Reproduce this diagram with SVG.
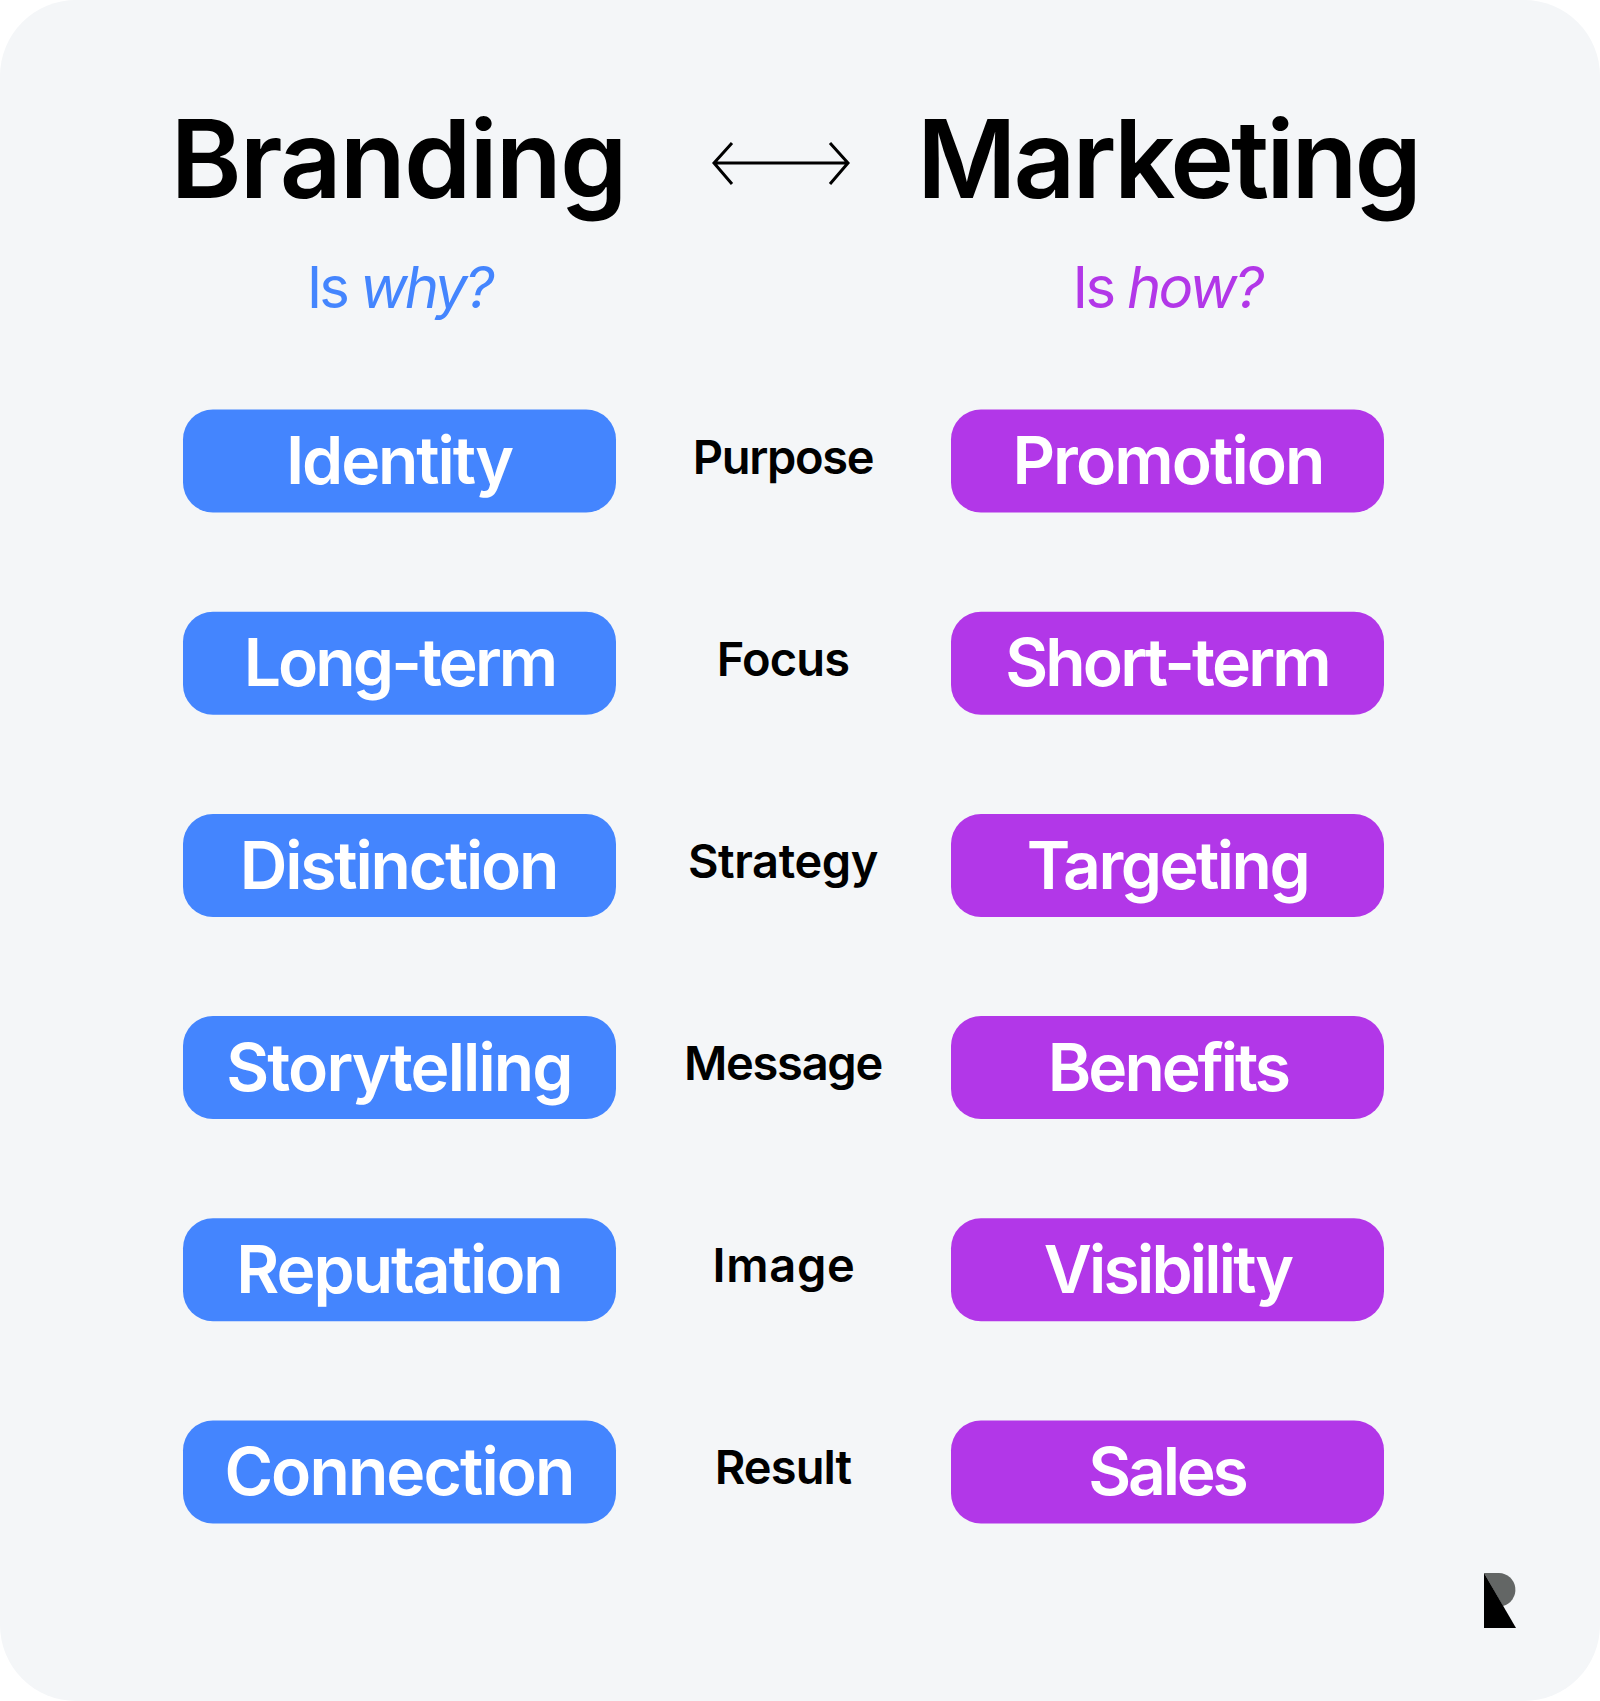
<svg xmlns="http://www.w3.org/2000/svg" width="1600" height="1701" viewBox="0 0 1600 1701">
<style>
text{font-family:Inter,"Liberation Sans",sans-serif;text-anchor:middle}
.t{font-size:108px;font-weight:600;letter-spacing:-3px;fill:#000}
.s{font-size:58px;font-weight:400;letter-spacing:-3px}
.p{font-size:66px;font-weight:600;letter-spacing:-2.4px;fill:#fff}
.c{font-size:47px;font-weight:600;letter-spacing:-1.3px;fill:#000}
.b{fill:#4485fe}.m{fill:#b237e8}
</style>
<rect width="1600" height="1701" fill="#fff"/>
<rect width="1600" height="1701" rx="76" fill="#f4f6f8"/>
<g id="title-branding"><text class="t" x="398" y="198" style="letter-spacing:-1.9px">Branding</text></g>
<g id="title-marketing"><text class="t" x="1168" y="198">Marketing</text></g>
<g id="connectors"><path d="M714 163H848M732 143L714 163L732 184M830 143L848 163L830 184" fill="none" stroke="#000" stroke-width="3"/></g>
<g id="sub-branding"><text class="s" x="399" y="308" fill="#4485fe">Is <tspan font-style="italic">why?</tspan></text></g>
<g id="sub-marketing"><text class="s" x="1167" y="308" fill="#b237e8" style="letter-spacing:-2.7px">Is <tspan font-style="italic">how?</tspan></text></g>
<g id="b1"><rect class="b" x="183" y="409.500" width="433" height="103" rx="30"/><text class="p" x="399" y="484" style="letter-spacing:-2.1px">Identity</text></g>
<g id="b2"><rect class="b" x="183" y="611.700" width="433" height="103" rx="30"/><text class="p" x="399.500" y="686" style="letter-spacing:-2.9px">Long-term</text></g>
<g id="b3"><rect class="b" x="183" y="814" width="433" height="103" rx="30"/><text class="p" x="398.500" y="889" style="letter-spacing:-2.2px">Distinction</text></g>
<g id="b4"><rect class="b" x="183" y="1016" width="433" height="103" rx="30"/><text class="p" x="399" y="1091" style="letter-spacing:-1.9px">Storytelling</text></g>
<g id="b5"><rect class="b" x="183" y="1218.300" width="433" height="103" rx="30"/><text class="p" x="399" y="1293" style="letter-spacing:-2px">Reputation</text></g>
<g id="b6"><rect class="b" x="183" y="1420.500" width="433" height="103" rx="30"/><text class="p" x="399" y="1495" style="letter-spacing:-1.9px">Connection</text></g>
<g id="c1"><text class="c" x="783" y="474">Purpose</text></g>
<g id="c2"><text class="c" x="783" y="676" style="letter-spacing:-.8px">Focus</text></g>
<g id="c3"><text class="c" x="783" y="878" style="letter-spacing:-.4px">Strategy</text></g>
<g id="c4"><text class="c" x="783" y="1080">Message</text></g>
<g id="c5"><text class="c" x="784" y="1282" style="letter-spacing:.7px">Image</text></g>
<g id="c6"><text class="c" x="783" y="1484" style="letter-spacing:-.9px">Result</text></g>
<g id="m1"><rect class="m" x="951" y="409.500" width="433" height="103" rx="30"/><text class="p" x="1168" y="484" style="letter-spacing:-1.9px">Promotion</text></g>
<g id="m2"><rect class="m" x="951" y="611.700" width="433" height="103" rx="30"/><text class="p" x="1167" y="686" style="letter-spacing:-2.8px">Short-term</text></g>
<g id="m3"><rect class="m" x="951" y="814" width="433" height="103" rx="30"/><text class="p" x="1167.500" y="889" style="letter-spacing:-2.5px">Targeting</text></g>
<g id="m4"><rect class="m" x="951" y="1016" width="433" height="103" rx="30"/><text class="p" x="1168" y="1091" style="letter-spacing:-3px">Benefits</text></g>
<g id="m5"><rect class="m" x="951" y="1218.300" width="433" height="103" rx="30"/><text class="p" x="1167.500" y="1293" style="letter-spacing:-2.8px">Visibility</text></g>
<g id="m6"><rect class="m" x="951" y="1420.500" width="433" height="103" rx="30"/><text class="p" x="1167" y="1495" style="letter-spacing:-3.2px">Sales</text></g>
<g id="logo"><path d="M1484 1573H1499A16.800 16.800 0 0 1 1503 1606Z" fill="#636665"/><path d="M1484 1573L1516 1628H1484Z" fill="#000"/></g>
</svg>
